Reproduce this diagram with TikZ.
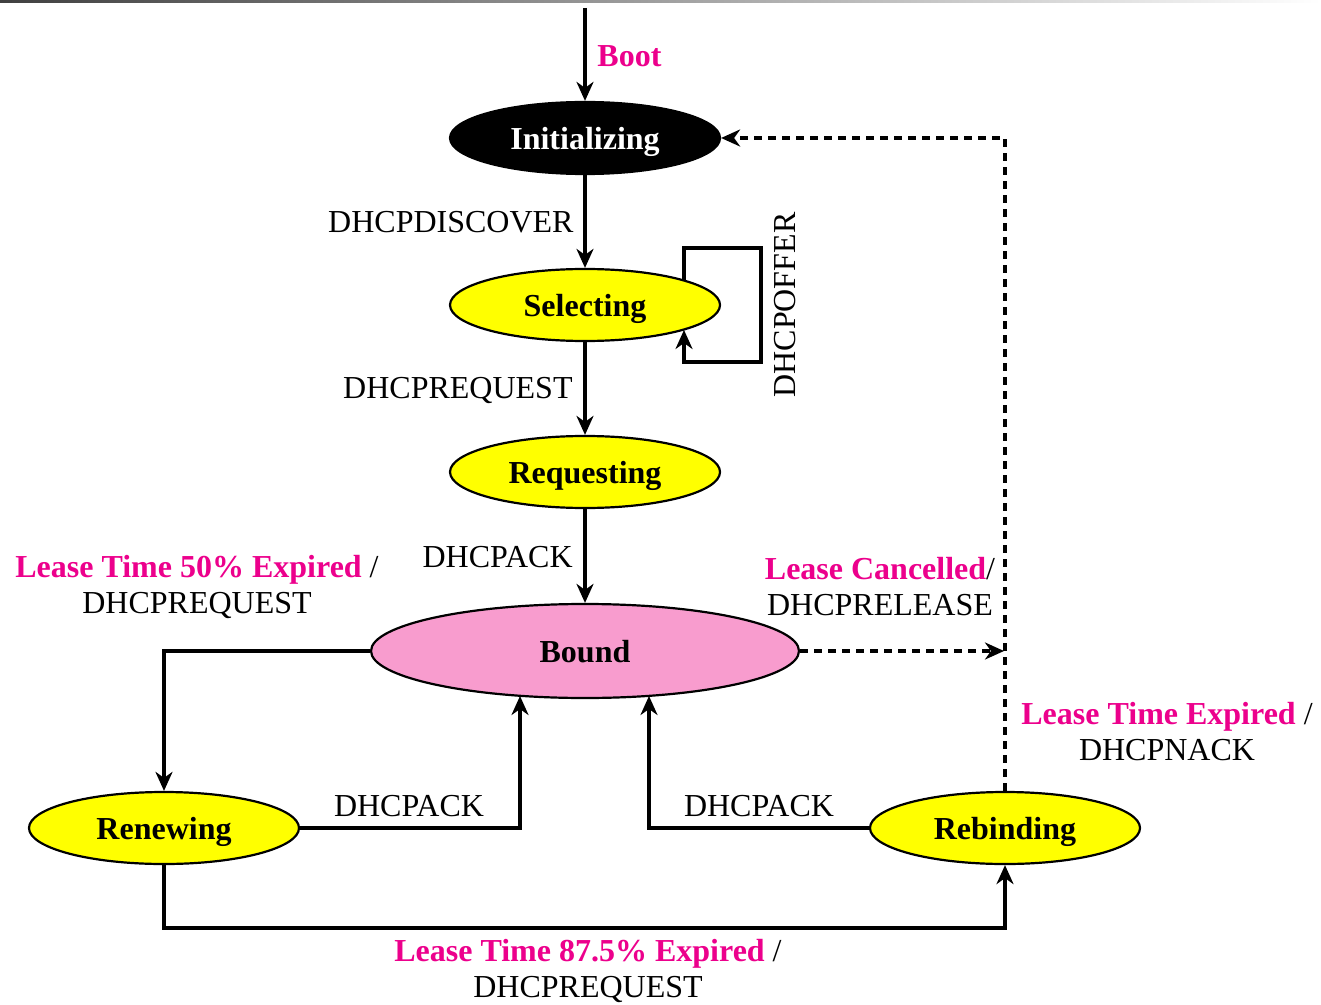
\documentclass[tikz,border=0pt]{standalone}
\usepackage{fontspec}
\setmainfont{Liberation Serif}
\usetikzlibrary{arrows.meta,shapes.geometric}
\definecolor{mag}{RGB}{236,0,140}
\definecolor{pinkfill}{RGB}{248,156,206}
\definecolor{yel}{RGB}{255,255,0}
\begin{document}
\begin{tikzpicture}[x=0.5pt,y=-0.5pt,
  every node/.style={font=\fontsize{16}{18}\selectfont, inner sep=0pt},
  state/.style={ellipse, draw=black, line width=1.1pt, fill=yel, font=\fontsize{16}{18}\selectfont\bfseries,
     minimum width=135pt, minimum height=36pt, text depth=0pt},
  tip/.style={-{Stealth[length=9.5pt,width=8.5pt,inset=3pt]}},
  conn/.style={line width=1.6pt, tip},
  dashline/.style={line width=1.6pt, dash pattern=on 4pt off 3pt, tip},
  cond/.style={text=mag, font=\fontsize{16}{18}\selectfont\bfseries},
  lbl/.style={align=center}
]
\useasboundingbox (0,0) rectangle (1321,1005);
\shade[left color=black!75, right color=white] (0,0) rectangle (1321,3);

% states
\node[state, fill=black, text=white] (init) at (585,138) {Initializing};
\node[state] (sel) at (585,305) {Selecting};
\node[state] (req) at (585,472) {Requesting};
\node[state, fill=pinkfill, minimum width=214pt, minimum height=47pt] (bound) at (585,651) {Bound};
\node[state] (renew) at (164,828) {Renewing};
\node[state] (rebind) at (1005,828) {Rebinding};

% helper coordinates
\coordinate (start) at (585,8);
\coordinate (slTop) at (684,281);
\coordinate (slBot) at (684,330);
\coordinate (slA) at (684,248);
\coordinate (slB) at (761,248);
\coordinate (slC) at (761,362);
\coordinate (slD) at (684,362);
\coordinate (bA) at (520,696);
\coordinate (bB) at (649,696);
\coordinate (bl) at (164,928);
\coordinate (dj) at (1004,651);

% connectors
\draw[conn] (start) -- (init.north);
\draw[conn] (init.south) -- (sel.north);
\draw[conn] (sel.south) -- (req.north);
\draw[conn] (req.south) -- (bound.north);
\draw[conn] (slTop) -- (slA) -- (slB) -- (slC) -- (slD) -- (slBot);
\draw[conn] (bound.west) -| (renew.north);
\draw[conn] (renew.east) -| (bA);
\draw[conn] (rebind.west) -| (bB);
\draw[conn] (renew.south) -- (bl) -| (rebind.south);
\draw[dashline] (bound.east) -- (dj);
\draw[dashline] (rebind.north) |- (init.east);

% labels
\node[cond, anchor=west] (lboot) at (597,56) {Boot};
\node[anchor=east] (ldisc) at (574,222) {DHCPDISCOVER};
\node[anchor=east] (lreq) at (573,390) {DHCPREQUEST};
\node[anchor=east] (lack) at (573,557) {DHCPACK};
\node[rotate=90] (loffer) at (785,305) {DHCPOFFER};
\node[lbl] (l50) at (197,587) {\textcolor{mag}{\bfseries Lease Time 50\% Expired} /\\DHCPREQUEST};
\node[lbl] (lcan) at (880,587) {\textcolor{mag}{\bfseries Lease Cancelled}/\\DHCPRELEASE};
\node[lbl] (lexp) at (1167,732) {\textcolor{mag}{\bfseries Lease Time Expired} /\\DHCPNACK};
\node (lack1) at (409,806) {DHCPACK};
\node (lack2) at (759,806) {DHCPACK};
\node[lbl] (l875) at (588,971) {\textcolor{mag}{\bfseries Lease Time 87.5\% Expired} /\\DHCPREQUEST};
\end{tikzpicture}
\end{document}
